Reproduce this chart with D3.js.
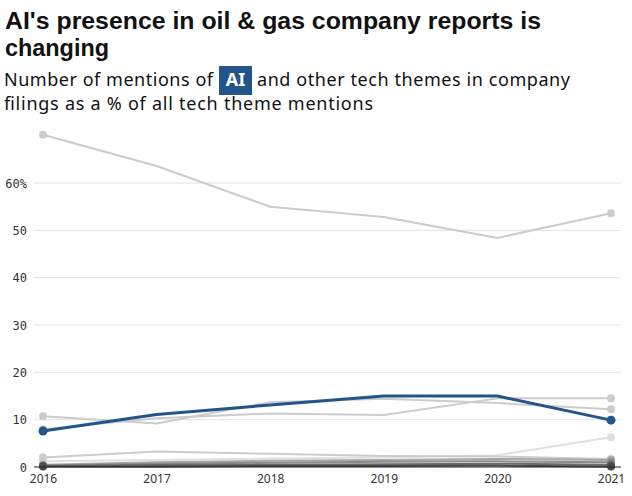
<!DOCTYPE html>
<html><head><meta charset="utf-8">
<script src="https://cdn.jsdelivr.net/npm/d3@7"></script>
<style>
body{margin:0;background:#fff;}
svg{display:block;}
</style></head><body>
<svg id="c" width="632" height="496"></svg>
<script>
const years = [2016, 2017, 2018, 2019, 2020, 2021];
const yTicks = [0, 10, 20, 30, 40, 50, 60];
const aiValues = [7.6, 11.1, 13.1, 15.0, 15.0, 9.9];
const themeA = [70.2, 63.6, 55.0, 52.8, 48.4, 53.6];
const themeB = [10.7, 9.2, 13.7, 14.4, 13.5, 12.2];
const themeC = [8.0, 10.3, 11.3, 11.0, 14.5, 14.5];
const themeD = [2.0, 3.3, 2.8, 2.3, 2.2, 1.7];
const themeE = [1.2, 1.5, 1.8, 2.0, 2.5, 6.3];
const themeF = [0.5, 1.0, 1.3, 1.5, 1.7, 1.5];
const themeG = [0.3, 0.7, 0.9, 1.1, 1.2, 1.0];
const themeH = [0.2, 0.4, 0.5, 0.6, 0.7, 0.5];
const themeI = [0.1, 0.1, 0.2, 0.2, 0.3, 0.1];

const greys = [
  {v: themeE, c: "#e0e0e0"},
  {v: themeA, c: "#cccccc"},
  {v: themeB, c: "#cccccc"},
  {v: themeC, c: "#cccccc"},
  {v: themeD, c: "#cccccc"},
  {v: themeF, c: "#a6a6a6"},
  {v: themeG, c: "#8a8a8a"},
  {v: themeH, c: "#6a6a6a"},
  {v: themeI, c: "#4a4a4a"}
];
const blue = "#23548a";

const svg = d3.select("#c");
const x = d3.scaleLinear().domain([2016, 2021]).range([43, 611]);
const y = d3.scaleLinear().domain([0, 70]).range([467, 467 - 70 * 4.733]);

// Title
const tf = "Liberation Sans, Arial, sans-serif";
svg.append("text").attr("font-family", tf).attr("font-weight", 700).attr("font-size", 23.5).attr("fill", "#111")
  .attr("x", 5).attr("y", 29).attr("textLength", 536).attr("lengthAdjust", "spacingAndGlyphs")
  .text("AI's presence in oil & gas company reports is");
svg.append("text").attr("font-family", tf).attr("font-weight", 700).attr("font-size", 23.5).attr("fill", "#111")
  .attr("x", 5).attr("y", 56).attr("textLength", 104).attr("lengthAdjust", "spacingAndGlyphs")
  .text("changing");

// Subtitle
const sub = svg.append("g").attr("font-family", "Noto Sans, sans-serif").attr("font-size", 18).attr("fill", "#111");
sub.append("text").attr("x", 4).attr("y", 86).attr("textLength", 209).attr("lengthAdjust", "spacing").text("Number of mentions of");
sub.append("rect").attr("x", 219).attr("y", 66).attr("width", 33).attr("height", 29).attr("fill", blue);
sub.append("text").attr("x", 235.5).attr("y", 86).attr("text-anchor", "middle").attr("font-weight", 700).attr("fill", "#fff").text("AI");
sub.append("text").attr("x", 257).attr("y", 86).attr("textLength", 313).attr("lengthAdjust", "spacing").text("and other tech themes in company");
sub.append("text").attr("x", 4).attr("y", 110).attr("textLength", 369).attr("lengthAdjust", "spacing").text("filings as a % of all tech theme mentions");

// Grid
const grid = svg.append("g");
grid.selectAll("line").data(yTicks.filter(d => d > 0)).join("line")
  .attr("x1", 34).attr("x2", 621).attr("y1", d => y(d)).attr("y2", d => y(d))
  .attr("stroke", "#e3e3e3").attr("stroke-width", 1);

// Y axis labels
const yAxis = d3.axisLeft(y).tickValues(yTicks).tickSize(0).tickPadding(0)
  .tickFormat(d => d === 60 ? "60%" : d);
const yg = svg.append("g").attr("transform", "translate(27,0)").call(yAxis);
yg.select(".domain").remove();
yg.selectAll("text").attr("font-family", "DejaVu Sans Mono, monospace").attr("font-size", 12).attr("fill", "#333").attr("dy", "0.35em");

// X axis labels
const xAxis = d3.axisBottom(x).tickValues(years).tickSize(0).tickPadding(0).tickFormat(d3.format("d"));
const xg = svg.append("g").attr("transform", "translate(0,474)").call(xAxis);
xg.select(".domain").remove();
xg.selectAll("text").attr("font-family", "Noto Sans, sans-serif").attr("font-size", 12).attr("fill", "#333").attr("dy", "0.71em");

const line = d3.line().x((d, i) => x(years[i])).y(d => y(d));

// grey lines
const gl = svg.append("g");
greys.forEach(s => {
  gl.append("path").datum(s.v).attr("d", line).attr("fill", "none")
    .attr("stroke", s.c).attr("stroke-width", 2).attr("stroke-linejoin", "round");
});

// zero line
svg.append("line").attr("x1", 34).attr("x2", 621).attr("y1", y(0)).attr("y2", y(0))
  .attr("stroke", "#222").attr("stroke-width", 1);

greys.forEach(s => {
  gl.selectAll(null).data([0, s.v.length - 1]).join("circle")
    .attr("cx", i => x(years[i])).attr("cy", i => y(s.v[i])).attr("r", 4).attr("fill", s.c);
});

// AI line
svg.append("path").datum(aiValues).attr("d", line).attr("fill", "none")
  .attr("stroke", blue).attr("stroke-width", 3).attr("stroke-linejoin", "round");
svg.selectAll(".aidot").data([0, aiValues.length - 1]).join("circle")
  .attr("cx", i => x(years[i])).attr("cy", i => y(aiValues[i])).attr("r", 4.5).attr("fill", blue);
</script>
</body></html>
